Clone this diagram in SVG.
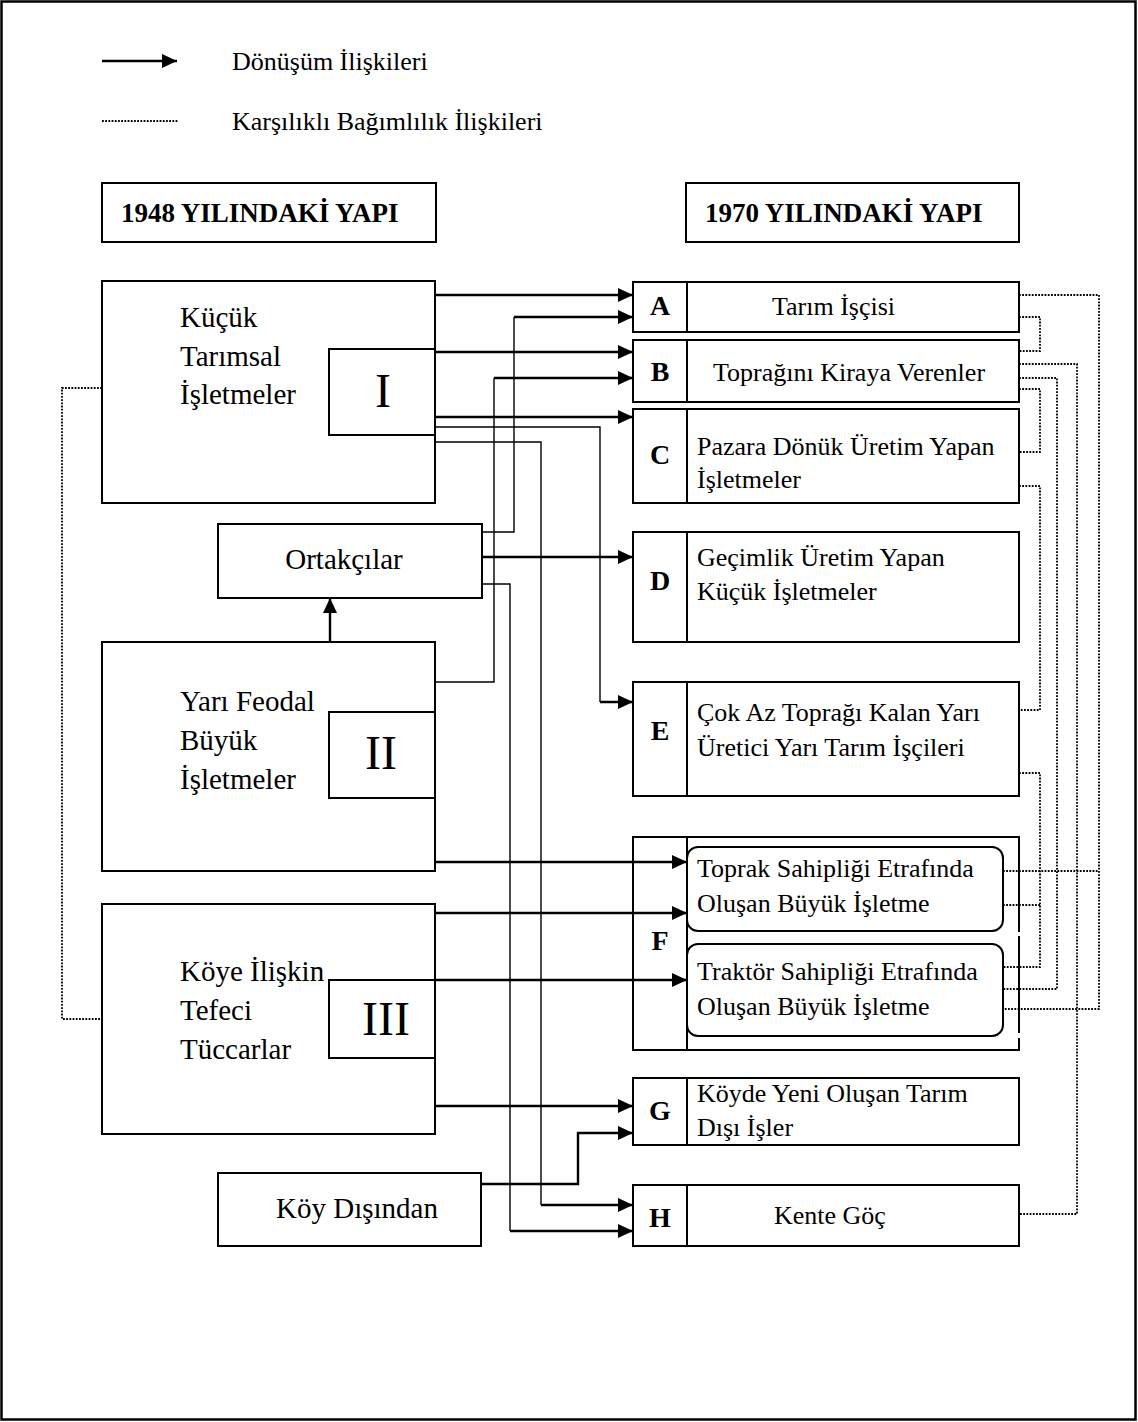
<svg xmlns="http://www.w3.org/2000/svg" width="1138" height="1422" viewBox="0 0 1138 1422">
<style>
  text { font-family: "Liberation Serif", "Times New Roman", serif; fill: #000; }
  .box { fill: #fff; stroke: #000; stroke-width: 2; }
  .inner { fill: none; stroke: #000; stroke-width: 2; }
  .lt { font-size: 29px; }
  .rt { font-size: 26px; }
  .lg { font-size: 26px; }
  .hd { font-size: 27px; font-weight: bold; }
  .let { font-size: 28px; font-weight: bold; }
  .rom { font-size: 48px; }
  .thick { fill: none; stroke: #000; stroke-width: 2.4; }
  .thin { fill: none; stroke: #000; stroke-width: 1.4; }
  .dot { fill: none; stroke: #000; stroke-width: 1.8; stroke-dasharray: 1.8 1.4; }
</style>
<defs>
  <marker id="ah" markerUnits="userSpaceOnUse" markerWidth="16" markerHeight="14" refX="15" refY="7" orient="auto">
    <path d="M0,0 L15,7 L0,14 z" fill="#000"/>
  </marker>
</defs>
<rect x="1.5" y="1.5" width="1134" height="1418" fill="#fff" stroke="#000" stroke-width="2.5"/>

<g id="legend">
  <line x1="102" y1="61" x2="177" y2="61" class="thick" marker-end="url(#ah)"/>
  <text x="232" y="70" class="lg">Dönüşüm İlişkileri</text>
  <line x1="102" y1="121" x2="178" y2="121" class="dot"/>
  <text x="232" y="130" class="lg">Karşılıklı Bağımlılık İlişkileri</text>
</g>

<g id="header1948">
  <rect x="102" y="183" width="334" height="59" class="box"/>
  <text x="121" y="222" class="hd">1948 YILINDAKİ YAPI</text>
</g>
<g id="header1970">
  <rect x="686" y="183" width="333" height="59" class="box"/>
  <text x="705" y="222" class="hd">1970 YILINDAKİ YAPI</text>
</g>

<g id="node-I">
  <rect x="102" y="281" width="333" height="222" class="box"/>
  <rect x="329" y="349" width="106" height="86" class="inner"/>
  <text x="180" y="327" class="lt">Küçük</text>
  <text x="180" y="366" class="lt">Tarımsal</text>
  <text x="180" y="404" class="lt">İşletmeler</text>
  <text x="383" y="407" class="rom" text-anchor="middle">I</text>
</g>
<g id="node-ortakcilar">
  <rect x="218" y="524" width="264" height="74" class="box"/>
  <text x="344" y="569" class="lt" text-anchor="middle">Ortakçılar</text>
</g>
<g id="node-II">
  <rect x="102" y="642" width="333" height="229" class="box"/>
  <rect x="329" y="712" width="106" height="86" class="inner"/>
  <text x="180" y="711" class="lt">Yarı Feodal</text>
  <text x="180" y="750" class="lt">Büyük</text>
  <text x="180" y="789" class="lt">İşletmeler</text>
  <text x="381" y="769" class="rom" text-anchor="middle">II</text>
</g>
<g id="node-III">
  <rect x="102" y="904" width="333" height="230" class="box"/>
  <rect x="329" y="980" width="106" height="78" class="inner"/>
  <text x="180" y="981" class="lt">Köye İlişkin</text>
  <text x="180" y="1020" class="lt">Tefeci</text>
  <text x="180" y="1059" class="lt">Tüccarlar</text>
  <text x="386" y="1035" class="rom" text-anchor="middle">III</text>
</g>
<g id="node-koydisindan">
  <rect x="218" y="1173" width="263" height="73" class="box"/>
  <text x="276" y="1218" class="lt">Köy Dışından</text>
</g>

<g id="node-A">
  <rect x="633" y="282" width="386" height="50" class="box"/>
  <line x1="687" y1="282" x2="687" y2="332" class="inner"/>
  <text x="660" y="315" class="let" text-anchor="middle">A</text>
  <text x="772" y="315" class="rt">Tarım İşçisi</text>
</g>
<g id="node-B">
  <rect x="633" y="340" width="386" height="62" class="box"/>
  <line x1="687" y1="340" x2="687" y2="402" class="inner"/>
  <text x="660" y="381" class="let" text-anchor="middle">B</text>
  <text x="713" y="381" class="rt">Toprağını Kiraya Verenler</text>
</g>
<g id="node-C">
  <rect x="633" y="409" width="386" height="94" class="box"/>
  <line x1="687" y1="409" x2="687" y2="503" class="inner"/>
  <text x="660" y="464" class="let" text-anchor="middle">C</text>
  <text x="697" y="455" class="rt">Pazara Dönük Üretim Yapan</text>
  <text x="697" y="488" class="rt">İşletmeler</text>
</g>
<g id="node-D">
  <rect x="633" y="532" width="386" height="110" class="box"/>
  <line x1="687" y1="532" x2="687" y2="642" class="inner"/>
  <text x="660" y="590" class="let" text-anchor="middle">D</text>
  <text x="697" y="566" class="rt">Geçimlik Üretim Yapan</text>
  <text x="697" y="600" class="rt">Küçük İşletmeler</text>
</g>
<g id="node-E">
  <rect x="633" y="682" width="386" height="114" class="box"/>
  <line x1="687" y1="682" x2="687" y2="796" class="inner"/>
  <text x="660" y="740" class="let" text-anchor="middle">E</text>
  <text x="697" y="721" class="rt">Çok Az Toprağı Kalan Yarı</text>
  <text x="697" y="756" class="rt">Üretici Yarı Tarım İşçileri</text>
</g>
<g id="node-F">
  <path d="M1019,932 V837 H633 V1050 H1019 V1038 M1019,1033 V936" class="inner"/>
  <line x1="687" y1="837" x2="687" y2="1050" class="inner"/>
  <rect x="687" y="847" width="316" height="84" rx="11" class="inner"/>
  <rect x="687" y="944" width="316" height="92" rx="11" class="inner"/>
  <text x="660" y="950" class="let" text-anchor="middle">F</text>
  <text x="697" y="877" class="rt">Toprak Sahipliği Etrafında</text>
  <text x="697" y="912" class="rt">Oluşan Büyük İşletme</text>
  <text x="697" y="980" class="rt">Traktör Sahipliği Etrafında</text>
  <text x="697" y="1015" class="rt">Oluşan Büyük İşletme</text>
</g>
<g id="node-G">
  <rect x="633" y="1078" width="386" height="67" class="box"/>
  <line x1="687" y1="1078" x2="687" y2="1145" class="inner"/>
  <text x="660" y="1120" class="let" text-anchor="middle">G</text>
  <text x="697" y="1102" class="rt">Köyde Yeni Oluşan Tarım</text>
  <text x="697" y="1136" class="rt">Dışı İşler</text>
</g>
<g id="node-H">
  <rect x="633" y="1185" width="386" height="61" class="box"/>
  <line x1="687" y1="1185" x2="687" y2="1246" class="inner"/>
  <text x="660" y="1227" class="let" text-anchor="middle">H</text>
  <text x="774" y="1224" class="rt">Kente Göç</text>
</g>

<g id="connectors">
  <path d="M435,295 H633" class="thick" marker-end="url(#ah)"/>
  <path d="M435,352 H633" class="thick" marker-end="url(#ah)"/>
  <path d="M435,417 H633" class="thick" marker-end="url(#ah)"/>
  <path d="M482,557 H633" class="thick" marker-end="url(#ah)"/>
  <path d="M435,862 H687" class="thick" marker-end="url(#ah)"/>
  <path d="M435,913 H687" class="thick" marker-end="url(#ah)"/>
  <path d="M435,980 H687" class="thick" marker-end="url(#ah)"/>
  <path d="M435,1106 H633" class="thick" marker-end="url(#ah)"/>
  <path d="M481,1184 H578 V1133 H633" class="thick" marker-end="url(#ah)"/>
  <path d="M330,642 V598" class="thick" marker-end="url(#ah)"/>

  <path d="M435,427 H600 V702" class="thin"/>
  <path d="M600,702 H633" class="thick" marker-end="url(#ah)"/>
  <path d="M435,442 H541 V1205" class="thin"/>
  <path d="M541,1205 H633" class="thick" marker-end="url(#ah)"/>
  <path d="M482,532 H514 V317" class="thin"/>
  <path d="M514,317 H633" class="thick" marker-end="url(#ah)"/>
  <path d="M482,584 H510 V1231" class="thin"/>
  <path d="M510,1231 H633" class="thick" marker-end="url(#ah)"/>
  <path d="M435,682 H494 V378" class="thin"/>
  <path d="M494,378 H633" class="thick" marker-end="url(#ah)"/>

  <path d="M1019,295 H1099 V1009 H1003" class="dot"/>
  <path d="M1003,871 H1099" class="dot"/>
  <path d="M1019,317 H1040 V351 H1019" class="dot"/>
  <path d="M1019,364 H1077 V1214 H1019" class="dot"/>
  <path d="M1019,378 H1057 V989 H1003" class="dot"/>
  <path d="M1019,389 H1040 V452 H1019" class="dot"/>
  <path d="M1019,486 H1040 V710 H1019" class="dot"/>
  <path d="M1019,773 H1040 V967 H1003" class="dot"/>
  <path d="M1003,905 H1040" class="dot"/>
  <path d="M102,388 H62 V1019 H102" class="dot"/>
</g>
</svg>
